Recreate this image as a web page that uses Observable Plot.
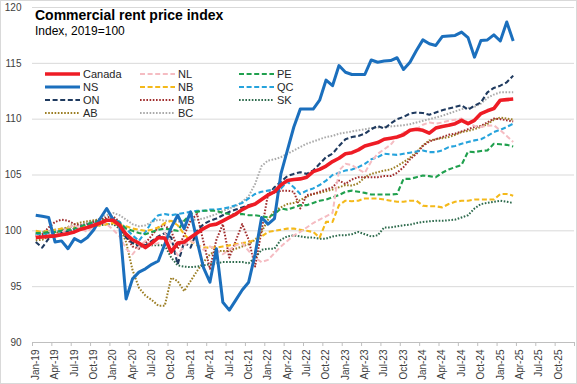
<!DOCTYPE html>
<html><head><meta charset="utf-8">
<script src="https://cdn.jsdelivr.net/npm/d3@7"></script>
<script src="https://cdn.jsdelivr.net/npm/@observablehq/plot@0.6"></script>
<style>
body{margin:0;background:#fff;}
#wrap{position:relative;width:577px;height:384px;overflow:hidden;font-family:"Liberation Sans",Arial,sans-serif;}
#border{position:absolute;left:0;top:0;width:577px;height:384px;box-sizing:border-box;border:1px solid #d9d9d9;pointer-events:none;}
#overlay{position:absolute;left:0;top:0;pointer-events:none;}
</style></head>
<body>
<div id="wrap"><div id="chart"></div>
<svg id="overlay" width="577" height="384"></svg>
<div id="border"></div></div>
<script>
const title = "Commercial rent price index";
const subtitle = "Index, 2019=100";
const xLabels = ["Jan-19","Apr-19","Jul-19","Oct-19","Jan-20","Apr-20","Jul-20","Oct-20","Jan-21","Apr-21","Jul-21","Oct-21","Jan-22","Apr-22","Jul-22","Oct-22","Jan-23","Apr-23","Jul-23","Oct-23","Jan-24","Apr-24","Jul-24","Oct-24","Jan-25","Apr-25","Jul-25","Oct-25"];
const yTicks = [90,95,100,105,110,115,120];
const monthCount = 84; // Jan-19 .. Dec-25 categories

const seriesNames = ["Canada","NL","PE","NS","NB","QC","ON","MB","SK","AB","BC"];

const canada = [99.4,99.45,99.5,99.55,99.65,99.75,99.9,100.15,100.3,100.5,
100.7,100.95,100.95,100.5,99.7,99.2,98.9,98.5,98.9,99.4,
99.35,98.1,98.9,99.0,99.4,99.8,100.2,100.5,100.6,100.9,
101.2,101.5,101.9,102.2,102.4,102.8,103.2,103.5,104.1,104.5,
104.6,104.65,104.8,105.3,105.5,105.8,106.2,106.5,106.9,107.0,
107.25,107.6,107.75,107.9,108.2,108.3,108.4,108.6,109.0,109.1,
109.0,108.75,109.2,109.35,109.45,109.6,109.9,109.6,109.9,110.5,
110.75,110.95,111.7,111.75,111.8];
const nl = [99.6,99.3,99.7,99.5,99.8,100.3,100.5,100.2,99.9,100.4,
100.8,100.6,100.1,99.5,98.4,97.9,98.6,99.1,98.7,98.9,
99.8,98.9,97.8,98.7,99.1,98.8,98.3,98.6,98.3,97.9,
98.3,98.7,98.9,98.2,97.6,97.2,97.4,98.0,98.6,99.1,
99.6,99.9,100.3,100.7,101.0,101.3,101.6,105.4,106.0,105.9,
105.5,105.2,106.2,106.9,107.3,107.7,108.4,108.8,109.0,109.1,
109.5,109.7,109.6,109.7,109.85,109.95,110.05,109.7,109.4,109.3,
109.4,109.45,109.0,108.5,107.95];
const pe = [99.8,99.8,99.9,99.9,100.0,100.1,100.2,100.4,100.6,100.8,
100.9,101.0,101.05,100.7,100.2,100.0,99.8,99.7,99.9,100.1,
100.2,100.1,100.0,100.9,101.5,101.7,101.8,101.8,101.8,101.6,
101.5,101.5,101.5,101.4,101.4,101.3,101.2,101.5,102.0,101.9,
102.1,102.3,102.3,102.5,102.7,102.8,103.0,103.2,103.5,103.6,
103.5,103.4,103.25,103.25,103.25,103.25,103.3,104.65,104.65,104.8,
104.95,104.9,104.8,105.2,105.5,105.7,105.9,107.1,107.05,107.15,
107.2,107.8,107.75,107.7,107.55];
const ns = [101.4,101.3,101.2,99.0,99.1,98.4,99.3,99.0,99.4,100.1,
101.1,102.0,101.0,100.6,93.9,95.7,96.3,96.6,97.0,97.3,
98.8,100.3,101.4,100.2,101.7,99.1,96.7,95.4,98.4,93.6,
92.9,93.8,94.7,95.4,97.9,101.2,100.6,101.1,105.1,107.2,
109.3,110.9,110.9,110.9,111.7,113.5,113.0,114.8,114.2,114.0,
114.0,114.0,115.3,115.1,115.2,115.25,115.5,114.45,115.1,116.15,
117.1,116.75,116.6,117.4,117.45,117.5,117.8,117.3,115.55,117.05,
117.1,117.55,117.0,118.7,117.0];
const nb = [100.0,99.9,100.0,100.1,100.2,100.2,100.3,100.3,100.4,100.4,
100.5,100.6,100.7,100.5,100.4,100.2,100.1,100.0,100.1,100.3,
100.7,100.9,100.5,99.7,99.1,98.7,98.5,98.5,98.5,98.6,
98.7,98.8,98.9,99.0,99.2,99.5,99.9,100.0,100.1,100.2,
100.2,100.1,100.0,99.9,99.4,100.8,100.8,102.3,102.7,102.65,
102.7,102.9,102.9,102.9,102.8,102.7,102.6,102.6,102.7,102.7,
102.25,102.2,102.2,102.1,102.4,102.6,102.7,102.7,102.8,102.8,
102.8,102.8,103.3,103.3,103.15];
const qc = [99.7,99.7,99.8,99.9,100.0,100.1,100.2,100.4,100.6,100.7,
100.9,101.0,101.1,100.8,100.2,99.6,99.1,99.9,100.8,101.4,
101.5,101.4,101.5,101.6,101.7,101.8,101.8,101.9,101.9,102.0,
102.1,102.3,102.5,102.9,103.3,103.5,103.6,103.7,103.8,104.4,
103.9,103.3,103.6,103.8,104.1,104.5,105.0,105.2,105.4,105.5,
105.7,106.0,106.4,106.6,106.9,106.85,106.8,106.9,107.0,107.1,
107.2,107.05,107.05,107.2,107.5,107.6,107.8,107.95,108.1,108.2,
108.5,108.85,109.05,109.3,109.6];
const on = [99.0,98.5,99.3,99.6,99.8,100.0,100.2,100.4,100.5,100.7,
100.8,101.0,100.9,100.4,99.4,98.9,98.6,98.7,99.1,99.5,
99.8,99.4,97.0,99.0,98.5,100.0,100.6,100.9,101.1,101.4,
101.7,101.9,102.1,102.3,102.4,102.8,103.2,103.9,104.4,104.9,
105.1,105.25,105.1,105.4,106.0,106.6,106.9,107.6,108.2,108.4,
108.5,108.7,109.1,109.4,109.15,109.6,110.0,110.2,110.5,110.6,
110.55,110.4,110.6,110.8,110.95,111.1,111.25,110.85,111.2,111.5,
112.4,112.8,113.0,113.3,113.9];
const mb = [99.5,99.7,100.3,100.8,101.0,100.9,100.6,100.5,100.6,100.8,
101.0,101.2,101.3,100.8,99.5,98.6,98.4,98.9,99.6,100.3,
100.5,100.0,98.4,99.6,100.9,101.5,99.0,96.6,99.2,100.6,
97.6,99.1,100.6,99.2,96.8,100.0,103.3,103.4,103.6,103.6,
103.5,102.0,103.2,103.3,103.5,103.7,103.9,104.5,104.2,104.6,
104.8,104.8,104.8,104.8,104.9,104.9,105.2,105.7,106.4,106.9,
107.6,108.0,108.2,108.4,108.6,108.7,108.9,109.1,109.3,109.4,
109.7,110.05,110.0,109.9,109.8];
const sk = [99.7,99.6,99.8,99.9,100.0,100.0,100.1,100.2,100.3,100.4,
100.5,100.6,100.6,100.2,99.5,99.0,98.7,98.7,98.7,98.7,
98.7,97.6,96.9,96.8,96.75,96.8,96.9,97.0,97.1,97.2,
97.2,97.2,97.2,97.1,97.6,98.3,98.4,98.4,99.2,99.5,
99.6,99.5,99.4,99.4,99.3,99.3,99.5,99.6,99.6,99.7,
99.9,99.7,99.5,99.6,100.3,100.3,100.4,100.5,100.55,100.7,
100.8,100.85,100.9,100.9,100.95,101.0,101.2,101.4,102.0,102.4,
102.5,102.6,102.7,102.6,102.5];
const ab = [99.15,99.2,99.5,99.75,100.05,100.35,100.6,100.75,100.85,100.95,
101.05,101.05,100.8,100.4,99.0,96.5,94.9,94.2,93.8,93.3,
93.3,95.8,95.5,94.6,95.5,96.4,97.2,97.9,98.2,98.2,
98.2,98.4,98.6,98.8,99.2,99.9,101.0,101.8,102.1,102.4,
102.5,102.75,103.05,103.3,103.4,103.55,103.7,103.9,104.1,104.05,
104.25,104.8,105.1,105.25,105.4,105.5,105.8,106.15,106.55,107.05,
107.65,108.1,108.2,108.3,108.4,108.6,108.85,108.95,109.1,109.3,
109.55,109.95,110.15,110.05,109.95];
const bc = [99.8,99.9,100.0,100.1,100.2,100.3,100.4,100.5,100.7,100.9,
101.1,101.4,101.6,101.4,101.0,100.6,100.4,100.5,100.8,101.0,
100.9,100.9,100.8,100.9,101.0,101.0,101.1,101.3,101.5,101.8,
102.0,102.2,102.6,103.1,104.2,105.8,106.3,106.4,106.6,106.9,
107.2,107.5,107.8,108.0,108.2,108.4,108.5,108.7,108.8,108.9,
109.0,109.1,109.2,109.25,109.3,109.35,109.4,109.45,109.55,109.7,
109.85,110.0,110.15,110.3,110.5,110.7,110.9,111.0,111.1,111.4,
111.9,112.2,112.4,112.4,112.4];

const seriesValues = {Canada:canada, NL:nl, PE:pe, NS:ns, NB:nb, QC:qc, ON:on, MB:mb, SK:sk, AB:ab, BC:bc};

// styles (kept separate from data)
const styles = {
  Canada:{color:"#ee1c25", width:3.6, dash:null},
  NS:{color:"#1b6fbd", width:3.0, dash:null},
  ON:{color:"#1f3a5f", width:2.1, dash:"5,2.6"},
  AB:{color:"#9c7e24", width:2.0, dash:"1.6,1.6"},
  NL:{color:"#f5bcc2", width:2.0, dash:"5,2.6"},
  NB:{color:"#f4b91a", width:2.1, dash:"5,2.6"},
  MB:{color:"#a02c2c", width:2.0, dash:"1.6,1.6"},
  BC:{color:"#ababab", width:2.0, dash:"1.6,1.6"},
  PE:{color:"#20a04e", width:2.1, dash:"5,2.6"},
  QC:{color:"#26a3dc", width:2.1, dash:"5,2.6"},
  SK:{color:"#2d6a4c", width:2.0, dash:"1.6,1.6"}
};
const drawOrder = ["BC","AB","SK","MB","ON","QC","NB","PE","NL","NS","Canada"];

const lineMarks = drawOrder.map(name => {
  const s = styles[name];
  const rows = seriesValues[name].map((v,i) => ({i, v}));
  return Plot.line(rows, {x: d => d.i + 0.5, y: "v", stroke: s.color, strokeWidth: s.width,
    strokeDasharray: s.dash, strokeLinejoin: "round", strokeLinecap: "butt"});
});

const tickPositions = d3.range(0, monthCount + 1, 3);
const labelPositions = xLabels.map((_, k) => 3 * k + 0.5);

const chart = Plot.plot({
  width: 577, height: 384,
  marginLeft: 32, marginRight: 3, marginTop: 7, marginBottom: 42,
  style: {fontFamily: "'Liberation Sans', Arial, sans-serif", fontSize: "10px", color: "#404040", background: "#fff"},
  x: {type: "linear", domain: [0, monthCount]},
  y: {domain: [90, 120]},
  marks: [
    Plot.ruleY(yTicks.filter(t => t > 90), {stroke: "#d9d9d9", strokeWidth: 1}),
    Plot.ruleY([90], {stroke: "#bfbfbf", strokeWidth: 1}),
    Plot.axisY({ticks: yTicks, tickSize: 0, tickPadding: 11, tickFormat: d => String(d), fontSize: 10, label: null}),
    Plot.axisX({ticks: tickPositions, tickSize: 4, stroke: "#bfbfbf", tickFormat: () => "", label: null}),
    Plot.axisX({ticks: labelPositions, tickSize: 0, tickPadding: 7, tickRotate: -90,
      tickFormat: d => xLabels[Math.round((d - 0.5) / 3)], fontSize: 10, label: null}),
    ...lineMarks
  ]
});
document.getElementById("chart").appendChild(chart);

// overlay: title, subtitle, legend
const ov = d3.select("#overlay");
ov.append("text").attr("x", 35).attr("y", 20).attr("font-family", "'Liberation Sans', Arial, sans-serif")
  .attr("font-weight", 700).attr("font-size", 14).attr("fill", "#000").text(title);
ov.append("text").attr("x", 35).attr("y", 35).attr("font-family", "'Liberation Sans', Arial, sans-serif")
  .attr("font-size", 12).attr("fill", "#000").text(subtitle);

const legendOrder = ["Canada","NL","PE","NS","NB","QC","ON","MB","SK","AB","BC"];
const colX = [45, 140, 239];
const rowY = [74, 87, 100, 113];
legendOrder.forEach((name, k) => {
  const c = k % 3, r = Math.floor(k / 3);
  const s = styles[name];
  const x0 = colX[c], y = rowY[r];
  ov.append("line").attr("x1", x0).attr("x2", x0 + 35).attr("y1", y).attr("y2", y)
    .attr("stroke", s.color).attr("stroke-width", s.width).attr("stroke-dasharray", s.dash);
  ov.append("text").attr("x", x0 + 38).attr("y", y).attr("dy", "0.36em")
    .attr("font-family", "'Liberation Sans', Arial, sans-serif").attr("font-size", 11)
    .attr("fill", "#262626").text(name);
});
</script>
</body></html>
